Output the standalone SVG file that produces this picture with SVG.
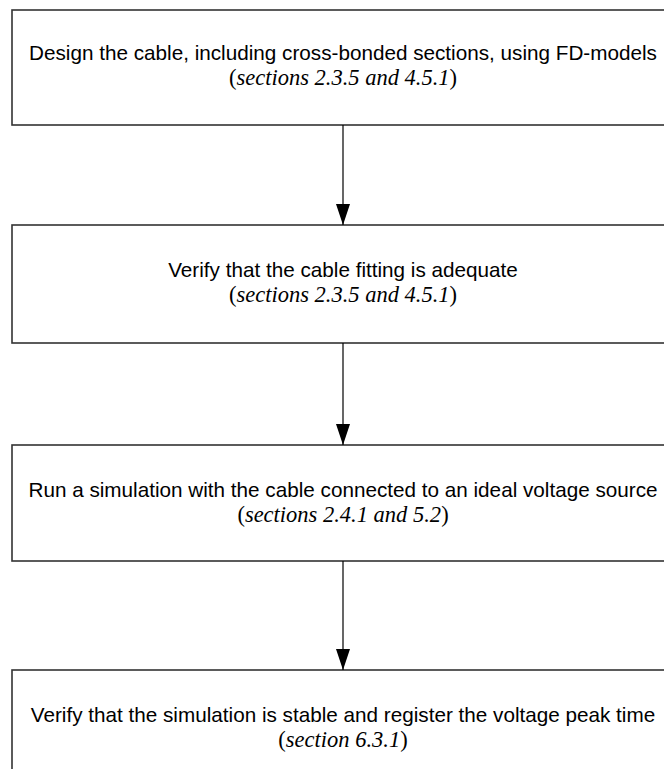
<svg xmlns="http://www.w3.org/2000/svg" width="664" height="769" viewBox="0 0 664 769">
<style>
.box{fill:#fff;stroke:#333;stroke-width:1.6}
.t{font-family:"Liberation Sans",Arial,sans-serif;font-size:20.7px;fill:#000;text-anchor:middle}
.s{font-family:"Liberation Serif","Times New Roman",serif;font-size:22.5px;fill:#000;text-anchor:middle}
.i{font-style:italic}
.c{stroke:#000;stroke-width:1.2;fill:none}
</style>
<defs>
<marker id="ah" markerUnits="userSpaceOnUse" markerWidth="21" markerHeight="14" refX="21" refY="7" orient="auto" viewBox="0 0 21 14">
<path d="M0,0 L21,7 L0,14 Z" fill="#000"/>
</marker>
</defs>
<rect width="664" height="769" fill="#fff"/>
<g id="n1">
<rect class="box" x="12" y="10" width="670" height="115"/>
<text class="t" x="343" y="60">Design the cable, including cross-bonded sections, using FD-models</text>
<text class="s" x="343" y="85">(<tspan class="i">sections 2.3.5 and 4.5.1</tspan>)</text>
</g>
<g id="n2">
<rect class="box" x="12" y="225" width="670" height="118"/>
<text class="t" x="343" y="277">Verify that the cable fitting is adequate</text>
<text class="s" x="343" y="302">(<tspan class="i">sections 2.3.5 and 4.5.1</tspan>)</text>
</g>
<g id="n3">
<rect class="box" x="12" y="445" width="670" height="116"/>
<text class="t" x="343" y="497">Run a simulation with the cable connected to an ideal voltage source</text>
<text class="s" x="343" y="522">(<tspan class="i">sections 2.4.1 and 5.2</tspan>)</text>
</g>
<g id="n4">
<rect class="box" x="12" y="670" width="670" height="120"/>
<text class="t" x="343" y="722">Verify that the simulation is stable and register the voltage peak time</text>
<text class="s" x="343" y="747">(<tspan class="i">section 6.3.1</tspan>)</text>
</g>
<g id="connectors">
<line class="c" x1="343" y1="125" x2="343" y2="225" marker-end="url(#ah)"/>
<line class="c" x1="343" y1="343" x2="343" y2="445" marker-end="url(#ah)"/>
<line class="c" x1="343" y1="561" x2="343" y2="670" marker-end="url(#ah)"/>
</g>
</svg>
